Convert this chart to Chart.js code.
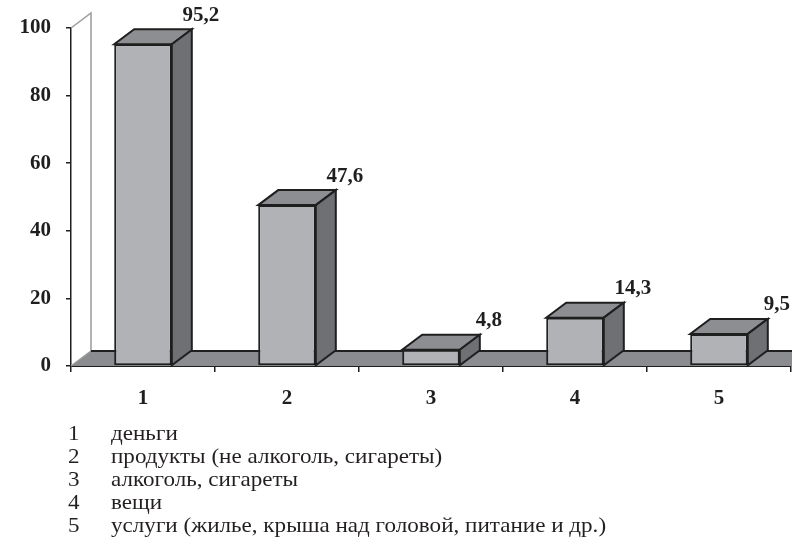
<!DOCTYPE html>
<html>
<head>
<meta charset="utf-8">
<script src="https://cdn.jsdelivr.net/npm/chart.js@4/dist/chart.umd.min.js"></script>
<style>
  html, body { margin: 0; padding: 0; background: #fff; }
  #wrap { position: relative; width: 792px; height: 546px; }
  #c { position: absolute; left: 0; top: 0; }
  #legend { position: absolute; left: 0; top: 422px; width: 792px; font-family: "Liberation Serif", "Times New Roman", serif; font-size: 21px; color: #231f20; line-height: 23px; }
  #legend div { position: relative; height: 23px; white-space: nowrap; }
  #legend span { position: absolute; top: 0; transform: scaleX(1.1); transform-origin: 0 0; }
  #legend span.n { left: 68px; }
  #legend span.t { left: 111px; }
</style>
</head>
<body>
<div id="wrap">
  <canvas id="c" width="792" height="546"></canvas>
  <div id="legend"></div>
</div>
<script>
const categories = ["1", "2", "3", "4", "5"];
const values = [95.2, 47.6, 4.8, 14.3, 9.5];
const legendLabels = [
  "деньги",
  "продукты (не алкоголь, сигареты)",
  "алкоголь, сигареты",
  "вещи",
  "услуги (жилье, крыша над головой, питание и др.)"
];
const yTicks = [0, 20, 40, 60, 80, 100];

const DX = 20, DY = -15;
const FRONT = '#b1b2b5', SIDE = '#6f7074', TOP = '#8d8e91', FLOOR = '#8b8c8f', INK = '#1f1f1f';
const FONT_BOLD = { family: '"Liberation Serif", "Times New Roman", serif', size: 21, weight: 'bold' };

const legendEl = document.getElementById('legend');
categories.forEach((c, i) => {
  const d = document.createElement('div');
  const n = document.createElement('span');
  n.className = 'n';
  n.textContent = c;
  const t = document.createElement('span');
  t.className = 't';
  t.textContent = legendLabels[i];
  d.appendChild(n);
  d.appendChild(t);
  legendEl.appendChild(d);
});

const threeD = {
  id: 'threeD',
  beforeDatasetsDraw(chart) {
    const ctx = chart.ctx, a = chart.chartArea, ys = chart.scales.y;
    const y0 = ys.getPixelForValue(0), yT = ys.getPixelForValue(100);
    const L = a.left, R = chart.width + 30;
    ctx.save();
    // back wall
    ctx.strokeStyle = '#9a9a9a';
    ctx.lineWidth = 1.5;
    ctx.beginPath();
    ctx.moveTo(L, yT);
    ctx.lineTo(L + DX, yT + DY);
    ctx.lineTo(L + DX, y0 + DY);
    ctx.stroke();
    // floor
    ctx.fillStyle = FLOOR;
    ctx.beginPath();
    ctx.moveTo(L, y0);
    ctx.lineTo(R, y0);
    ctx.lineTo(R, y0 + DY);
    ctx.lineTo(L + DX, y0 + DY);
    ctx.closePath();
    ctx.fill();
    ctx.strokeStyle = '#9a9a9a';
    ctx.beginPath();
    ctx.moveTo(L, y0);
    ctx.lineTo(L + DX, y0 + DY);
    ctx.stroke();
    ctx.strokeStyle = INK;
    ctx.lineWidth = 2;
    ctx.beginPath();
    ctx.moveTo(L + DX, y0 + DY);
    ctx.lineTo(R, y0 + DY);
    ctx.stroke();
    ctx.restore();
  },
  afterDatasetsDraw(chart) {
    const ctx = chart.ctx;
    const meta = chart.getDatasetMeta(0);
    ctx.save();
    ctx.lineWidth = 2;
    ctx.lineJoin = 'miter';
    ctx.strokeStyle = INK;
    meta.data.forEach((bar, i) => {
      const p = bar.getProps(['x', 'y', 'base', 'width'], true);
      const l = p.x - p.width / 2, r = p.x + p.width / 2, t = p.y, b = p.base;
      // top
      ctx.fillStyle = TOP;
      ctx.beginPath();
      ctx.moveTo(l, t); ctx.lineTo(r, t); ctx.lineTo(r + DX, t + DY); ctx.lineTo(l + DX, t + DY); ctx.closePath();
      ctx.fill(); ctx.stroke();
      // side
      ctx.fillStyle = SIDE;
      ctx.beginPath();
      ctx.moveTo(r, t); ctx.lineTo(r + DX, t + DY); ctx.lineTo(r + DX, b + DY); ctx.lineTo(r, b); ctx.closePath();
      ctx.fill(); ctx.stroke();
      // value label
      ctx.fillStyle = INK;
      ctx.font = 'bold 21px "Liberation Serif", "Times New Roman", serif';
      ctx.textAlign = 'center';
      ctx.textBaseline = 'middle';
      ctx.fillText(String(values[i]).replace('.', ','), r + DX + 9, t + DY - 14);
    });
    ctx.restore();
  }
};

new Chart(document.getElementById('c'), {
  type: 'bar',
  data: {
    labels: categories,
    datasets: [{
      data: values,
      backgroundColor: FRONT,
      borderColor: INK,
      borderWidth: 2,
      borderSkipped: false,
      barPercentage: 0.40,
      categoryPercentage: 1.0
    }]
  },
  options: {
    responsive: false,
    animation: false,
    devicePixelRatio: 1,
    layout: { padding: { top: 28, right: 1, bottom: 0, left: 0 } },
    plugins: { legend: { display: false }, tooltip: { enabled: false } },
    scales: {
      x: {
        offset: true,
        afterFit(s) { s.height = 180; },
        grid: { offset: true, drawOnChartArea: false, color: INK, lineWidth: 1.5, tickLength: 6 },
        border: { display: true, color: INK, width: 2 },
        ticks: { color: INK, font: FONT_BOLD, padding: 14, maxRotation: 0 }
      },
      y: {
        min: 0, max: 100,
        afterFit(s) { s.width = 71; },
        afterBuildTicks(s) { s.ticks = yTicks.map(v => ({ value: v })); },
        grid: { drawOnChartArea: false, color: INK, lineWidth: 1.5, tickLength: 5 },
        border: { display: true, color: INK, width: 1.5 },
        ticks: { color: INK, font: FONT_BOLD, padding: 15 }
      }
    }
  },
  plugins: [threeD]
});
</script>
</body>
</html>
